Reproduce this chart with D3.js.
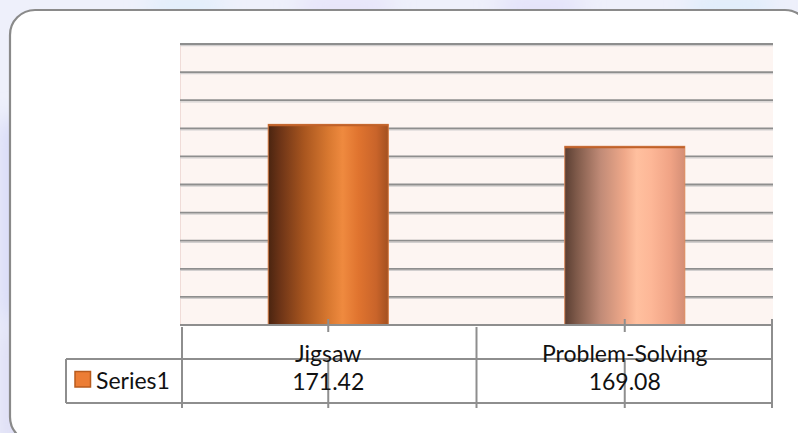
<!DOCTYPE html>
<html>
<head>
<meta charset="utf-8">
<script src="https://cdn.jsdelivr.net/npm/d3@7"></script>
<style>
  html, body { margin: 0; padding: 0; background: #eceefa; }
  svg { display: block; }
  text { font-family: Lato, "Open Sans", sans-serif; fill: #111; }
</style>
</head>
<body>
<svg id="chart" width="798" height="433"></svg>
<script>
// Chart data
const categories = ["Jigsaw", "Problem-Solving"];
const seriesName = "Series1";
const values = [171.42, 169.08];
const valueLabels = ["171.42", "169.08"];
const axisMin = 150, axisMax = 180, axisStep = 3;

const W = 798, H = 433;
const svg = d3.select("#chart");
const defs = svg.append("defs");

// soft backdrop behind the chart card
const blur = defs.append("filter").attr("id", "soft").attr("x", "-50%").attr("y", "-50%").attr("width", "200%").attr("height", "200%");
blur.append("feGaussianBlur").attr("stdDeviation", 12);
svg.append("rect").attr("width", W).attr("height", H).attr("fill", "#eef0fb");
const blobs = svg.append("g").attr("filter", "url(#soft)");
[[0, 120, 30, 200, "#d6d8f8"], [0, 330, 30, 120, "#dcdcf4"], [150, 0, 70, 16, "#d8eefa"],
 [300, 0, 90, 16, "#e2dcf8"], [500, 0, 80, 16, "#dcd8f8"], [690, 0, 80, 16, "#d4ecfa"]]
  .forEach(b => blobs.append("rect").attr("x", b[0]).attr("y", b[1]).attr("width", b[2]).attr("height", b[3]).attr("fill", b[4]));

// chart card
svg.append("rect")
  .attr("x", 10).attr("y", 10).attr("width", 800).attr("height", 432).attr("rx", 25)
  .attr("fill", "#ffffff").attr("stroke", "#8a8a8a").attr("stroke-width", 2.2);

// scales
const plotLeft = 180, plotRight = 773, plotTop = 44, plotBottom = 325;
const x = d3.scaleBand().domain(categories).range([plotLeft, plotRight]).padding(0);
const y = d3.scaleLinear().domain([axisMin, axisMax]).range([plotBottom, plotTop]);
const ticks = d3.range(axisMin, axisMax + axisStep / 2, axisStep);

// plot area
svg.append("rect")
  .attr("x", plotLeft).attr("y", y(axisMax)).attr("width", plotRight - plotLeft).attr("height", y(axisMin) - y(axisMax))
  .attr("fill", "#fdf5f2");
svg.append("line")
  .attr("x1", plotLeft + 0.5).attr("x2", plotLeft + 0.5).attr("y1", y(axisMax)).attr("y2", y(axisMin))
  .attr("stroke", "#f0dcd8").attr("stroke-width", 1);

// gridlines with a light shadow underneath
const grid = svg.append("g");
grid.selectAll("line.shadow").data(ticks.filter(t => t > axisMin)).join("line")
  .attr("class", "shadow")
  .attr("x1", plotLeft).attr("x2", plotRight)
  .attr("y1", d => y(d) + 1.6).attr("y2", d => y(d) + 1.6)
  .attr("stroke", "#d2cfcf").attr("stroke-width", 1.2);
grid.selectAll("line.major").data(ticks.filter(t => t > axisMin)).join("line")
  .attr("class", "major")
  .attr("x1", plotLeft).attr("x2", plotRight)
  .attr("y1", d => y(d)).attr("y2", d => y(d))
  .attr("stroke", "#8e8e8e").attr("stroke-width", 1.8);

// bar gradients
function gradient(id, stops) {
  const g = defs.append("linearGradient").attr("id", id).attr("x1", "0%").attr("x2", "100%").attr("y1", "0%").attr("y2", "0%");
  stops.forEach(s => g.append("stop").attr("offset", s[0]).attr("stop-color", s[1]));
}
gradient("bar0", [["0%", "#4a2410"], ["10%", "#6d3417"], ["30%", "#a9561f"], ["50%", "#d87830"],
                  ["62%", "#ef8a3f"], ["75%", "#e0742f"], ["90%", "#c9642a"], ["100%", "#a3501f"]]);
gradient("bar1", [["0%", "#5a3e32"], ["10%", "#7f5a4a"], ["30%", "#c18b77"], ["50%", "#f0a98a"],
                  ["60%", "#ffc09f"], ["72%", "#fdb797"], ["88%", "#f0a385"], ["100%", "#d48e76"]]);

const barW = x.bandwidth() * 0.405;
const bars = svg.append("g");
bars.selectAll("rect").data(values).join("rect")
  .attr("x", (d, i) => x(categories[i]) + (x.bandwidth() - barW) / 2)
  .attr("y", d => y(d))
  .attr("width", barW)
  .attr("height", d => y(axisMin) - y(d))
  .attr("fill", (d, i) => `url(#bar${i})`)
  .attr("stroke", (d, i) => i === 0 ? "#d57a40" : "#dc8a5c")
  .attr("stroke-width", 1);
bars.selectAll("line").data(values).join("line")
  .attr("x1", (d, i) => x(categories[i]) + (x.bandwidth() - barW) / 2)
  .attr("x2", (d, i) => x(categories[i]) + (x.bandwidth() + barW) / 2)
  .attr("y1", d => y(d) + 1).attr("y2", d => y(d) + 1)
  .attr("stroke", "#c0622a").attr("stroke-width", 2);

// data table
const rowTop = 359, rowBottom = 403, tableLeft = 66, tableEnd = 408;
const lineColor = "#8e8e8e";
const table = svg.append("g").attr("stroke", lineColor).attr("stroke-width", 2);
table.append("line").attr("x1", plotLeft).attr("x2", plotRight).attr("y1", plotBottom).attr("y2", plotBottom);
table.append("line").attr("x1", tableLeft).attr("x2", plotRight - 1).attr("y1", rowTop).attr("y2", rowTop);
table.append("line").attr("x1", tableLeft).attr("x2", plotRight - 1).attr("y1", rowBottom).attr("y2", rowBottom);
table.append("line").attr("x1", tableLeft).attr("x2", tableLeft).attr("y1", rowTop).attr("y2", rowBottom);
// column dividers
const dividers = [plotLeft + 2].concat(categories.map(c => x(c) + x.bandwidth()));
table.selectAll("line.div").data(dividers).join("line")
  .attr("class", "div")
  .attr("x1", (d, i) => i === dividers.length - 1 ? d - 1 : d)
  .attr("x2", (d, i) => i === dividers.length - 1 ? d - 1 : d)
  .attr("y1", (d, i) => i === dividers.length - 1 ? plotBottom - 6 : plotBottom + 2)
  .attr("y2", tableEnd);
// category tick marks
table.selectAll("line.tick").data(categories).join("line")
  .attr("class", "tick")
  .attr("x1", c => x(c) + x.bandwidth() / 2).attr("x2", c => x(c) + x.bandwidth() / 2)
  .attr("y1", plotBottom - 6).attr("y2", plotBottom + 7);
table.selectAll("line.tick2").data(categories).join("line")
  .attr("class", "tick2")
  .attr("x1", c => x(c) + x.bandwidth() / 2).attr("x2", c => x(c) + x.bandwidth() / 2)
  .attr("y1", rowTop + 1).attr("y2", tableEnd);

// legend key
svg.append("rect")
  .attr("x", 75).attr("y", 371.5).attr("width", 15.5).attr("height", 15.5)
  .attr("fill", "#ec7d35").attr("stroke", "#b85b1e").attr("stroke-width", 1.5);
svg.append("text").attr("x", 96).attr("y", 389).attr("font-size", 23).text(seriesName);

// category names and values
svg.append("g").selectAll("text").data(categories).join("text")
  .attr("x", c => x(c) + x.bandwidth() / 2).attr("y", 362)
  .attr("text-anchor", "middle").attr("font-size", 23).text(c => c);
svg.append("g").selectAll("text").data(valueLabels).join("text")
  .attr("x", (d, i) => x(categories[i]) + x.bandwidth() / 2).attr("y", 390)
  .attr("text-anchor", "middle").attr("font-size", 23).text(d => d);
</script>
</body>
</html>
